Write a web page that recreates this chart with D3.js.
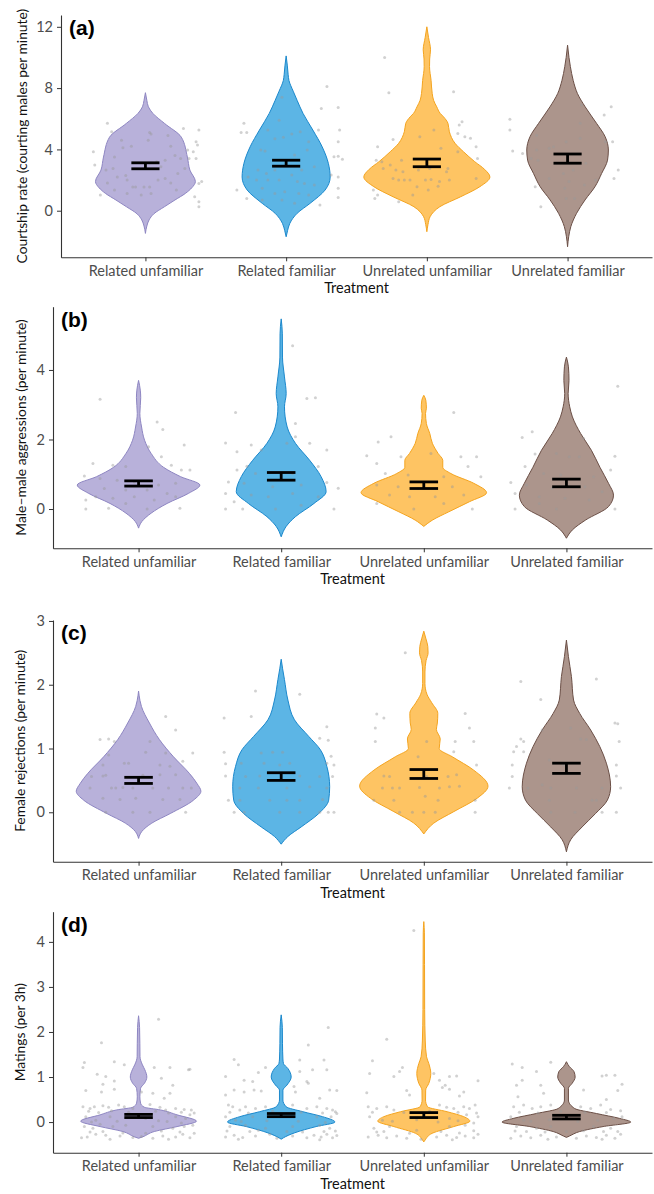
<!DOCTYPE html>
<html>
<head>
<meta charset="utf-8">
<script src="https://cdn.jsdelivr.net/npm/d3@7"></script>
<style>
  body { margin: 0; background: #fff; }
  text { font-family: Lato, "Open Sans", sans-serif; }
</style>
</head>
<body>
<div id="chart"></div>
<script>
// categories and labels
var treatments = ["Related unfamiliar", "Related familiar", "Unrelated unfamiliar", "Unrelated familiar"];
var panelTags = ["(a)", "(b)", "(c)", "(d)"];
var yTitles = ["Courtship rate (courting males per minute)", "Male\u2013male aggressions (per minute)",
  "Female rejections (per minute)", "Matings (per 3h)"];
var yTicks = [[0, 4, 8, 12], [0, 2, 4], [0, 1, 2, 3], [0, 1, 2, 3, 4]];
var yDomains = [[-3.04, 12.77], [-1.13, 5.82], [-0.775, 3.015], [-0.68, 4.67]];

// means and standard errors per treatment
var meanCourtship = [2.93, 3.1, 3.12, 3.4], seCourtship = [0.195, 0.195, 0.25, 0.3];
var meanAggression = [0.735, 0.94, 0.685, 0.75], seAggression = [0.075, 0.11, 0.095, 0.11];
var meanRejection = [0.5, 0.56, 0.6, 0.69], seRejection = [0.048, 0.06, 0.07, 0.08];
var meanMatings = [0.135, 0.155, 0.155, 0.11], seMatings = [0.035, 0.035, 0.055, 0.04];

// violin outlines: [value, half width in category units]
var violinCourtship = [
  [[7.7,0],[7.2,0.01],[6.78,0.021],[6.35,0.053],[5.7,0.135],[4.8,0.255],[3.5,0.298],[2.65,0.316],[1.9,0.355],[1.5,0.33],[1.13,0.284],[0.7,0.21],[0.26,0.135],[-0.2,0.06],[-0.6,0.026],[-1.0,0.01],[-1.48,0]],
  [[10.1,0],[9.5,0.008],[8.9,0.014],[8.5,0.02],[7.8,0.05],[7.2,0.078],[6.35,0.12],[5.26,0.19],[4.17,0.256],[3.09,0.3],[2.2,0.313],[1.35,0.277],[0.48,0.17],[-0.17,0.078],[-0.83,0.026],[-1.3,0.01],[-1.7,0]],
  [[12.0,0],[11.3,0.012],[10.5,0.026],[9.9,0.02],[9.4,0.019],[8.5,0.03],[7.65,0.038],[7.2,0.048],[6.78,0.07],[6.35,0.095],[6.13,0.118],[5.7,0.15],[5.15,0.16],[4.4,0.2],[3.85,0.26],[3.2,0.34],[2.7,0.41],[2.2,0.448],[1.57,0.377],[0.91,0.24],[0.26,0.092],[-0.39,0.023],[-0.9,0.008],[-1.37,0]],
  [[10.8,0],[10.0,0.01],[9.4,0.02],[8.5,0.04],[7.65,0.07],[6.78,0.125],[5.7,0.206],[4.83,0.267],[3.96,0.29],[3.3,0.284],[2.43,0.242],[1.57,0.195],[0.7,0.124],[-0.17,0.064],[-1.04,0.023],[-1.7,0.008],[-2.35,0]]
];
var violinAggression = [
  [[3.7,0],[3.42,0.012],[3.2,0.015],[2.75,0.009],[2.36,0.021],[1.98,0.042],[1.6,0.088],[1.2,0.175],[0.93,0.295],[0.69,0.43],[0.45,0.35],[0.16,0.2],[-0.12,0.088],[-0.36,0.023],[-0.55,0]],
  [[5.47,0],[5.04,0.008],[4.37,0.009],[3.8,0.023],[3.32,0.035],[2.94,0.023],[2.36,0.042],[1.89,0.1],[1.4,0.2],[0.93,0.28],[0.5,0.315],[0.16,0.23],[-0.22,0.1],[-0.5,0.035],[-0.8,0]],
  [[3.27,0],[3.13,0.014],[2.9,0.018],[2.75,0.012],[2.46,0.018],[2.17,0.042],[1.89,0.06],[1.6,0.1],[1.4,0.133],[1.2,0.133],[1.02,0.19],[0.74,0.35],[0.47,0.44],[0.21,0.32],[-0.08,0.175],[-0.32,0.06],[-0.5,0]],
  [[4.37,0],[4.09,0.014],[3.7,0.018],[3.32,0.012],[2.94,0.023],[2.65,0.042],[2.17,0.1],[1.69,0.175],[1.2,0.235],[0.74,0.295],[0.4,0.33],[0.07,0.295],[-0.32,0.133],[-0.6,0.042],[-0.84,0]]
];
var violinRejection = [
  [[1.9,0],[1.75,0.01],[1.66,0.02],[1.4,0.076],[1.14,0.146],[0.87,0.245],[0.61,0.356],[0.45,0.41],[0.33,0.437],[0.19,0.385],[-0.02,0.222],[-0.17,0.093],[-0.3,0.023],[-0.41,0]],
  [[2.4,0],[2.25,0.01],[2.08,0.023],[1.76,0.047],[1.45,0.093],[1.19,0.193],[0.98,0.275],[0.72,0.32],[0.4,0.34],[0.19,0.333],[-0.02,0.263],[-0.23,0.14],[-0.38,0.047],[-0.5,0]],
  [[2.84,0],[2.72,0.015],[2.6,0.028],[2.5,0.03],[2.38,0.016],[2.2,0.008],[2.02,0.008],[1.85,0.022],[1.72,0.055],[1.55,0.098],[1.4,0.095],[1.3,0.088],[1.15,0.115],[1.0,0.108],[0.87,0.2],[0.66,0.35],[0.41,0.45],[0.22,0.374],[0.01,0.21],[-0.17,0.07],[-0.34,0]],
  [[2.7,0],[2.44,0.014],[2.13,0.035],[1.76,0.05],[1.55,0.093],[1.29,0.17],[1.03,0.234],[0.77,0.28],[0.4,0.31],[0.19,0.287],[-0.02,0.204],[-0.23,0.11],[-0.43,0.03],[-0.62,0]]
];
var violinMatings = [
  [[2.36,0],[2.1,0.007],[1.75,0.009],[1.45,0.01],[1.27,0.027],[1.16,0.044],[1.0,0.058],[0.86,0.041],[0.75,0.014],[0.56,0.009],[0.42,0.014],[0.33,0.04],[0.27,0.152],[0.16,0.27],[0.02,0.406],[-0.1,0.27],[-0.21,0.11],[-0.33,0.027],[-0.36,0]],
  [[2.38,0],[2.1,0.008],[1.75,0.009],[1.4,0.012],[1.3,0.016],[1.19,0.047],[1.0,0.07],[0.82,0.04],[0.71,0.012],[0.49,0.012],[0.34,0.035],[0.23,0.152],[0.12,0.29],[0.0,0.377],[-0.1,0.245],[-0.24,0.093],[-0.35,0.015],[-0.38,0]],
  [[4.45,0],[4.2,0.004],[3.5,0.005],[2.5,0.006],[1.8,0.01],[1.45,0.019],[1.3,0.035],[1.08,0.049],[0.86,0.035],[0.71,0.013],[0.49,0.012],[0.34,0.026],[0.23,0.163],[0.12,0.28],[0.02,0.323],[-0.1,0.21],[-0.25,0.058],[-0.4,0.009],[-0.44,0]],
  [[1.34,0],[1.28,0.01],[1.23,0.021],[1.12,0.053],[1.0,0.061],[0.86,0.04],[0.75,0.014],[0.49,0.014],[0.3,0.058],[0.19,0.21],[0.08,0.374],[0.0,0.451],[-0.1,0.257],[-0.21,0.093],[-0.31,0.021],[-0.34,0]]
];

// jittered raw points: [offset from category in category units, value]
var pointsCourtship = [
  [[-0.27,5.7],[-0.24,5.15],[-0.37,3.85],[-0.36,2.98],[-0.32,1.02],[-0.17,4.6],[0.03,5.1],[0.04,5.0],[0.02,4.6],[0.16,4.9],[-0.16,4.1],[-0.1,4.2],[-0.22,3.5],[-0.28,2.65],[-0.23,2.75],[-0.2,2.2],[-0.14,2.3],[-0.13,2.0],[-0.09,1.55],[-0.07,1.55],[-0.01,1.55],[0.03,1.55],[0.09,2.0],[0.14,2.1],[0.18,1.8],[0.22,1.35],[0.04,1.13],[-0.03,1.02],[-0.13,1.13],[-0.22,1.35],[-0.27,1.8],[0.11,2.87],[0.08,3.2],[0.14,3.3],[0.25,3.4],[0.21,3.6],[0.18,4.2],[0.23,2.43],[0.28,2.76],[0.27,5.37],[0.38,5.26],[0.36,4.5],[0.37,4.28],[0.34,3.85],[0.3,3.96],[0.31,3.4],[0.36,3.4],[0.4,1.9],[0.38,1.78],[0.35,0.91],[0.38,0.59],[0.38,0.26]],
  [[-0.3,5.7],[-0.32,5.1],[-0.28,5.1],[-0.35,1.35],[-0.28,0.8],[0.29,8.1],[0.25,6.67],[0.37,6.74],[0.23,5.26],[0.38,5.26],[0.37,4.5],[0.34,3.52],[0.37,3.56],[0.4,3.35],[0.32,2.33],[0.37,2.2],[0.37,1.46],[0.37,0.87],[0.24,0.37],[-0.03,7.4],[-0.05,5.9],[-0.13,5.26],[0.04,5.0],[0.1,5.15],[-0.08,4.7],[-0.02,4.8],[0.16,4.5],[-0.18,3.96],[-0.15,3.9],[0.15,3.96],[0.06,3.63],[0.2,2.87],[-0.2,2.65],[-0.14,2.43],[-0.08,2.65],[0.04,2.33],[0.11,2.65],[-0.27,2.2],[-0.21,2.0],[-0.13,2.0],[-0.05,2.0],[0.08,1.9],[0.13,1.78],[0.2,1.67],[-0.17,1.46],[-0.08,1.13],[-0.01,1.24],[0.09,1.13],[0.16,1.02],[-0.17,0.7],[-0.03,0.7],[0.06,0.48]],
  [[-0.27,7.7],[-0.35,4.17],[-0.36,3.3],[-0.32,3.2],[-0.38,1.35],[-0.35,1.02],[-0.37,0.8],[-0.2,0.59],[-0.24,4.65],[0.19,7.76],[0.25,5.8],[0.23,5.59],[0.22,5.04],[0.27,4.83],[0.31,4.72],[0.35,4.17],[0.36,3.41],[0.22,3.85],[0.15,2.76],[0.35,2.1],[-0.05,4.83],[0.05,5.26],[0.1,4.07],[-0.18,3.3],[-0.26,2.98],[-0.31,2.76],[-0.22,2.65],[-0.17,2.54],[-0.06,2.65],[0.02,2.76],[0.14,2.54],[-0.24,2.1],[-0.2,2.0],[-0.16,2.0],[-0.12,2.0],[-0.01,2.0],[0.03,2.04],[0.09,1.9],[0.16,2.0],[-0.07,1.57],[0.01,1.35],[0.08,1.6],[-0.1,1.02],[-0.3,10.0]],
  [[-0.41,5.96],[-0.41,5.26],[-0.39,3.9],[-0.32,3.74],[0.1,6.9],[0.31,6.78],[0.26,6.24],[0.27,4.5],[0.32,4.5],[0.36,2.65],[0.33,2.1],[0.09,5.7],[-0.01,4.5],[0.09,4.72],[-0.22,4.93],[-0.13,4.07],[-0.1,4.17],[-0.22,3.96],[-0.26,3.41],[-0.21,3.3],[-0.08,3.09],[0.06,3.09],[0.04,2.65],[-0.03,2.43],[0.01,1.9],[0.12,1.67],[0.2,2.0],[-0.13,2.1],[-0.23,1.57],[-0.02,1.46],[-0.01,0.8],[0.05,0.8],[-0.19,0.26],[0.13,3.09]]
];
var pointsAggression = [
  [[-0.27,3.16],[0.13,2.5],[0.17,2.29],[0.32,1.84],[0.07,1.79],[0.16,1.5],[-0.32,1.31],[-0.18,1.26],[-0.09,1.22],[0.23,1.26],[0.3,1.12],[0.36,1.12],[-0.38,0.95],[-0.27,0.88],[-0.15,0.83],[-0.03,0.78],[0.14,0.69],[0.26,0.74],[-0.24,0.59],[-0.09,0.55],[0.06,0.55],[0.2,0.45],[-0.3,0.35],[-0.18,0.31],[-0.03,0.35],[0.11,0.26],[0.26,0.35],[-0.37,0.26],[-0.21,0.02],[-0.37,0],[0.06,0],[0.29,0.02],[-0.09,0.16]],
  [[0.08,4.7],[0.18,3.18],[0.24,3.2],[0.1,2.46],[0.1,2.08],[-0.32,2.78],[-0.39,1.9],[-0.31,1.65],[-0.21,1.84],[-0.14,1.7],[0.04,1.89],[0.2,1.89],[0.32,1.7],[-0.24,1.23],[-0.31,1.12],[-0.18,1.02],[0.08,1.02],[0.26,1.22],[-0.37,0.78],[-0.26,0.74],[-0.06,0.64],[0.14,0.69],[0.32,0.76],[-0.39,0.45],[-0.21,0.4],[-0.09,0.35],[0.08,0.45],[0.26,0.35],[-0.33,0.21],[-0.39,0],[-0.27,0],[-0.04,0],[0.14,0.11],[0.37,0],[0.4,0.6]],
  [[0.21,2.78],[-0.32,1.93],[-0.23,2.08],[-0.4,1.53],[-0.33,1.31],[-0.16,1.5],[0.05,1.6],[0.26,1.5],[0.37,1.5],[0.31,1.22],[-0.27,1.02],[-0.11,0.98],[0.14,0.93],[0.4,0.93],[-0.33,0.69],[-0.18,0.64],[-0.04,0.59],[0.2,0.64],[-0.24,0.4],[-0.1,0.35],[0.08,0.35],[0.28,0.4],[-0.33,0.16],[-0.07,0],[0.34,0],[0.14,0.16]],
  [[0.36,3.53],[-0.31,2.06],[-0.24,2.22],[-0.22,1.58],[0.34,1.52],[0.12,2.03],[-0.07,1.6],[0.02,1.5],[0.09,1.5],[-0.29,1.22],[0.31,1.12],[-0.16,1.02],[-0.04,0.98],[0.19,0.93],[-0.39,0.76],[-0.28,0.69],[-0.1,0.59],[0.13,0.64],[0.25,0.5],[-0.36,0.45],[-0.19,0.35],[-0.01,0.31],[0.16,0.26],[0.34,0],[-0.36,0],[-0.07,0],[-0.19,0.16]]
];
var pointsRejection = [
  [[-0.23,0],[-0.04,0],[0.08,0],[0.33,0],[-0.25,0.22],[-0.13,0.2],[-0.02,0.22],[0.17,0.2],[0.29,0.2],[-0.34,0.38],[-0.19,0.38],[-0.16,0.38],[-0.11,0.39],[-0.04,0.38],[0.1,0.38],[0.21,0.38],[0.31,0.38],[0.37,0.38],[-0.33,0.56],[-0.25,0.57],[-0.23,0.58],[0.03,0.58],[0.15,0.59],[0.26,0.59],[-0.25,0.74],[-0.1,0.77],[-0.07,0.77],[0.15,0.74],[0.22,0.72],[-0.21,0.9],[0.05,0.94],[0.19,0.93],[0.31,0.8],[0.38,0.93],[-0.27,1.14],[-0.21,1.15],[-0.17,1.11],[0.08,1.11],[0.26,1.29],[0.19,1.5]],
  [[-0.18,1.9],[0.13,1.85],[-0.4,1.48],[-0.21,1.5],[0.32,1.34],[0.27,1.16],[0.33,1.13],[-0.4,0.94],[-0.14,0.93],[-0.06,0.94],[0.01,0.94],[0.35,0.88],[-0.39,0.76],[-0.28,0.77],[-0.12,0.77],[-0.01,0.74],[0.06,0.77],[0.32,0.77],[0.37,0.74],[-0.39,0.57],[-0.25,0.56],[-0.15,0.57],[0.13,0.57],[0.27,0.56],[0.36,0.56],[-0.29,0.38],[-0.16,0.38],[0.04,0.38],[0.2,0.4],[0.32,0.38],[-0.37,0.19],[-0.29,0.19],[-0.08,0.19],[0.04,0.19],[0.13,0.19],[0.29,0.2],[-0.33,0],[-0.26,0],[-0.01,0],[0.13,0],[0.27,0],[0.33,0],[0.37,0]],
  [[-0.13,2.5],[-0.33,1.54],[-0.28,1.48],[0.29,1.55],[-0.34,1.32],[0.32,1.32],[-0.34,1.11],[0.02,1.11],[0.22,1.11],[0.35,1.11],[0.21,0.95],[-0.04,0.87],[0.37,0.74],[-0.28,0.57],[-0.24,0.56],[0.02,0.56],[0.17,0.56],[0.23,0.59],[-0.29,0.38],[-0.22,0.38],[-0.17,0.38],[-0.03,0.39],[0.11,0.38],[0.18,0.4],[0.25,0.41],[-0.35,0.19],[-0.21,0.19],[0.01,0.25],[0.1,0.19],[0.36,0.19],[-0.17,0],[-0.08,0],[0,0],[0.08,0],[0.36,0]],
  [[-0.32,2.05],[0.21,2.09],[-0.18,1.77],[0.34,1.4],[0.36,1.39],[-0.32,1.15],[-0.3,1.11],[-0.35,1.03],[-0.3,0.95],[-0.37,0.95],[-0.17,1.29],[0.03,1.32],[0.1,1.15],[0.14,1.14],[0.37,1.11],[-0.38,0.74],[-0.38,0.56],[-0.12,0.82],[-0.02,0.74],[0.35,0.74],[0.35,0.57],[-0.4,0.38],[-0.27,0.38],[-0.17,0.43],[-0.11,0.38],[0.07,0.38],[0.25,0.38],[0.38,0.38],[-0.12,0.19],[0.18,0.19],[0.21,0.19],[-0.11,0],[0.06,0],[0.25,0],[0.35,0]]
];
var pointsMatings = [
  [[0.14,2.28],[-0.26,1.76],[-0.38,1.32],[-0.39,1.21],[-0.17,1.34],[-0.1,1.27],[-0.29,1.06],[-0.23,1.01],[-0.17,0.91],[-0.25,0.84],[-0.37,0.7],[-0.26,0.67],[-0.17,0.73],[0.11,1.21],[0.22,1.21],[0.35,1.16],[0.36,1.17],[0.16,0.97],[0.24,0.82],[0.1,0.64],[0.02,0.67],[0.22,0.64],[0.18,0.53],
   [-0.39,0.34],[-0.34,0.3],[-0.31,0.34],[-0.25,0.36],[-0.21,0.33],[-0.14,0.38],[-0.1,0.34],[-0.04,0.3],[0.08,0.39],[0.15,0.33],[0.19,0.27],[0.26,0.3],[0.32,0.28],[0.37,0.27],[-0.37,0.12],[-0.3,0.04],[-0.2,0.12],[0.05,0.08],[0.26,0.12],[0.33,0.08],[0.36,0.16],[-0.38,-0.1],[-0.32,-0.14],[-0.18,-0.1],[-0.09,-0.07],[0.1,-0.1],[0.24,-0.14],[0.32,-0.1],[0.38,-0.07],[-0.4,-0.35],[-0.36,-0.33],[-0.3,-0.27],[-0.23,-0.29],[-0.13,-0.31],[-0.04,-0.34],[0.1,-0.36],[0.17,-0.31],[0.26,-0.33],[0.31,-0.27],[0.36,-0.35],[0.39,-0.25],[-0.25,-0.21],[-0.11,-0.24],[0.05,-0.25],
   [-0.35,0.24],[-0.28,0.21],[-0.19,0.25],[-0.07,0.22],[0.12,0.24],[0.21,0.2],[0.3,0.22],[0.39,0.2],[-0.33,0.0],[-0.15,0.02],[0.14,0.03],[0.3,-0.02],[-0.27,-0.05],[0.2,0.01],[-0.34,-0.22],[0.16,-0.2],[0.29,-0.22],[-0.2,-0.38],[0.02,-0.32],[0.21,-0.38]],
  [[0.33,2.1],[0.19,1.71],[-0.33,1.39],[-0.3,1.27],[-0.11,1.21],[-0.16,1.1],[0.13,1.38],[0.13,1.12],[0.22,1.16],[0.3,1.38],[0.32,1.16],[-0.39,1.01],[-0.26,0.93],[-0.2,0.9],[0.18,0.9],[0.19,0.86],[-0.33,0.71],[-0.26,0.67],[-0.19,0.71],[-0.14,0.69],[0.09,0.79],[0.1,0.67],[0.34,0.71],[0.39,0.7],[-0.39,0.6],[0.27,0.53],
   [-0.37,0.38],[-0.34,0.34],[-0.29,0.27],[-0.25,0.34],[-0.18,0.3],[-0.11,0.34],[0.08,0.38],[0.18,0.3],[0.25,0.34],[0.32,0.3],[0.36,0.27],[-0.39,0.12],[-0.32,0.04],[-0.2,0.12],[0.25,0.12],[0.35,0.12],[0.39,0.19],[-0.36,-0.1],[-0.25,-0.07],[-0.11,-0.14],[0.08,-0.1],[0.27,-0.07],[0.34,-0.14],[-0.39,-0.33],[-0.33,-0.29],[-0.27,-0.34],[-0.18,-0.31],[-0.08,-0.27],[0.08,-0.31],[0.18,-0.35],[0.23,-0.29],[0.28,-0.33],[0.32,-0.27],[0.36,-0.35],[-0.22,-0.21],[0.04,-0.21],[0.3,-0.21],
   [-0.36,0.22],[-0.23,0.2],[-0.06,0.24],[0.14,0.22],[0.29,0.2],[0.38,0.23],[-0.28,0.01],[-0.1,0.03],[0.12,0.02],[0.31,-0.01],[-0.38,-0.2],[-0.16,-0.18],[0.15,-0.22],[0.38,-0.2],[-0.3,-0.38],[-0.03,-0.36],[0.27,-0.39],[0.39,-0.3]],
  [[-0.07,4.25],[-0.26,1.84],[-0.36,1.36],[-0.38,1.08],[-0.15,1.21],[-0.17,1.12],[-0.21,1.01],[0.07,1.08],[0.18,1.01],[0.23,1.02],[0.38,0.92],[0.11,0.93],[0.15,0.82],[0.13,0.77],[-0.4,0.65],[-0.12,0.7],[-0.1,0.6],[0.18,0.73],[0.28,0.67],[0.25,0.58],
   [-0.39,0.34],[-0.33,0.3],[-0.26,0.34],[-0.21,0.27],[0.11,0.38],[0.16,0.33],[0.21,0.3],[0.28,0.34],[0.32,0.3],[0.36,0.38],[-0.38,0.12],[-0.29,0.04],[0.18,0.08],[0.3,0.16],[0.38,0.12],[-0.35,-0.14],[-0.24,-0.1],[0.18,-0.1],[0.29,-0.07],[-0.39,-0.33],[-0.32,-0.29],[-0.26,-0.35],[-0.19,-0.31],[-0.12,-0.36],[0.09,-0.33],[0.16,-0.29],[0.23,-0.34],[0.29,-0.31],[0.35,-0.35],[0.38,-0.27],[-0.28,-0.21],[0.25,-0.24],[-0.05,-0.18],
   [-0.36,0.22],[-0.14,0.21],[0.04,0.24],[0.24,0.22],[0.37,0.2],[-0.22,0.02],[-0.05,0.05],[0.1,0.0],[0.24,0.03],[0.35,-0.02],[-0.33,-0.22],[-0.1,-0.25],[0.12,-0.21],[0.35,-0.19],[-0.02,-0.38],[0.2,-0.39]],
  [[-0.38,1.29],[-0.31,1.21],[-0.11,1.33],[-0.21,1.12],[-0.31,0.93],[-0.35,0.82],[-0.18,0.82],[0.25,1.02],[0.28,1.04],[0.34,1.04],[0.39,0.84],[0.36,0.7],[0.12,0.71],[-0.16,0.64],[-0.34,0.56],[0.28,0.5],
   [-0.37,0.34],[-0.3,0.38],[-0.24,0.3],[-0.18,0.34],[-0.11,0.38],[0.1,0.34],[0.17,0.3],[0.24,0.38],[0.31,0.28],[-0.39,0.12],[-0.3,0.04],[0.33,0.08],[0.39,0.12],[-0.35,-0.1],[-0.21,-0.14],[0.19,-0.1],[0.31,-0.14],[-0.39,-0.36],[-0.32,-0.31],[-0.25,-0.35],[-0.18,-0.29],[-0.07,-0.33],[0.07,-0.36],[0.14,-0.31],[0.21,-0.34],[0.28,-0.29],[0.34,-0.36],[0.38,-0.27],[-0.28,-0.21],[0,-0.21],[0.26,-0.21],[-0.11,-0.1],
   [-0.33,0.22],[-0.2,0.2],[-0.04,0.24],[0.13,0.22],[0.28,0.21],[0.38,0.25],[-0.25,0.02],[-0.12,0.05],[0.08,0.01],[0.22,0.04],[-0.36,-0.2],[-0.15,-0.22],[0.12,-0.19],[0.36,-0.21],[-0.13,-0.38],[0.25,-0.38]]
];

var fills = ["#b8b1da", "#5cb5e5", "#fec463", "#ac958c"];
var strokes = ["#8e86c2", "#1b88cc", "#f4a41f", "#6b4f46"];

// panel boxes (pixel layout)
var layout = [
  {left: 61, top: 15, bottom: 257.3, titleX: 22},
  {left: 53, top: 306.7, bottom: 548.3, titleX: 21},
  {left: 53, top: 620, bottom: 861.7, titleX: 20},
  {left: 53, top: 911.7, bottom: 1152.7, titleX: 20}
];
var rightEdge = 652;

var panels = [
  {mean: meanCourtship, se: seCourtship, violins: violinCourtship, pts: pointsCourtship},
  {mean: meanAggression, se: seAggression, violins: violinAggression, pts: pointsAggression},
  {mean: meanRejection, se: seRejection, violins: violinRejection, pts: pointsRejection},
  {mean: meanMatings, se: seMatings, violins: violinMatings, pts: pointsMatings}
];

var svg = d3.select("#chart").append("svg")
  .attr("width", 654)
  .attr("height", 1194);

panels.forEach(function(p, i) {
  var L = layout[i];
  var g = svg.append("g");

  var x = d3.scalePoint()
    .domain(treatments)
    .range([L.left, rightEdge])
    .padding(0.6);
  var step = x.step();
  var w = d3.scaleLinear().domain([0, 1]).range([0, step]);

  var y = d3.scaleLinear()
    .domain(yDomains[i])
    .range([L.bottom, L.top]);

  // violins
  treatments.forEach(function(t, k) {
    var cx = x(t);
    var area = d3.area()
      .y(function(d) { return y(d[0]); })
      .x0(function(d) { return cx - w(d[1]); })
      .x1(function(d) { return cx + w(d[1]); })
      .curve(d3.curveMonotoneY);
    g.append("path")
      .datum(p.violins[k])
      .attr("d", area)
      .attr("fill", fills[k])
      .attr("stroke", strokes[k])
      .attr("stroke-width", 1);
  });

  // jittered points
  treatments.forEach(function(t, k) {
    g.selectAll(null)
      .data(p.pts[k])
      .enter()
      .append("circle")
        .attr("cx", function(d) { return x(t) + w(d[0]); })
        .attr("cy", function(d) { return y(d[1]); })
        .attr("r", 1.5)
        .attr("fill", "#9a9a9a")
        .attr("fill-opacity", 0.45);
  });

  // mean +/- se error bars
  var capHalf = w(0.1);
  treatments.forEach(function(t, k) {
    var cx = x(t), lo = y(p.mean[k] - p.se[k]), hi = y(p.mean[k] + p.se[k]);
    var eb = g.append("g").attr("stroke", "#000").attr("stroke-width", 2.8);
    eb.append("line").attr("x1", cx).attr("x2", cx).attr("y1", lo).attr("y2", hi);
    eb.append("line").attr("x1", cx - capHalf).attr("x2", cx + capHalf).attr("y1", lo).attr("y2", lo);
    eb.append("line").attr("x1", cx - capHalf).attr("x2", cx + capHalf).attr("y1", hi).attr("y2", hi);
  });

  // axes
  var yAxis = g.append("g")
    .attr("transform", "translate(" + L.left + ",0)")
    .call(d3.axisLeft(y).tickValues(yTicks[i]).tickFormat(d3.format("d"))
      .tickSize(4).tickSizeOuter(0).tickPadding(4));
  var xAxis = g.append("g")
    .attr("transform", "translate(0," + L.bottom + ")")
    .call(d3.axisBottom(x).tickSize(4).tickSizeOuter(0).tickPadding(4));
  [yAxis, xAxis].forEach(function(a) {
    a.select(".domain").attr("stroke", "#333").attr("stroke-width", 1.1);
    a.selectAll(".tick line").attr("stroke", "#333");
    a.selectAll(".tick text").attr("fill", "#4d4d4d").style("font-size", "14.5px")
      .style("font-family", "Lato, 'Open Sans', sans-serif");
  });

  // axis titles
  g.append("text")
    .attr("x", (L.left + rightEdge) / 2)
    .attr("y", L.bottom + 36)
    .attr("text-anchor", "middle")
    .style("font-size", "14.5px")
    .attr("fill", "#111")
    .text("Treatment");
  g.append("text")
    .attr("transform", "translate(" + L.titleX + "," + ((L.top + L.bottom) / 2) + ")rotate(-90)")
    .attr("text-anchor", "middle")
    .attr("dy", "0.35em")
    .style("font-size", "13.8px")
    .attr("fill", "#111")
    .text(yTitles[i]);

  // panel tag
  g.append("text")
    .attr("x", L.left + 8)
    .attr("y", L.top + 20)
    .style("font-family", "'Liberation Sans', Arial, sans-serif")
    .style("font-weight", "bold")
    .style("font-size", "21px")
    .text(panelTags[i]);
});
</script>
</body>
</html>
